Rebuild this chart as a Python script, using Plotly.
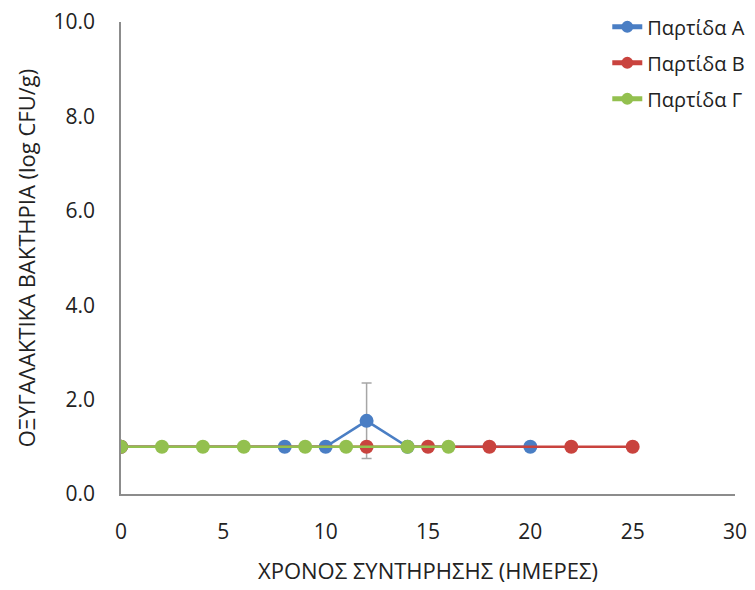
import plotly.graph_objects as go

# Data
days_a = [0, 8, 10, 12, 14, 20]
vals_a = [1.0, 1.0, 1.0, 1.55, 1.0, 1.0]
err_a = [0, 0, 0, 0.8, 0, 0]

days_b = [0, 12, 15, 18, 22, 25]
vals_b = [1.0, 1.0, 1.0, 1.0, 1.0, 1.0]

days_c = [0, 2, 4, 6, 9, 11, 14, 16]
vals_c = [1.0, 1.0, 1.0, 1.0, 1.0, 1.0, 1.0, 1.0]

names = ["Παρτίδα Α", "Παρτίδα Β", "Παρτίδα Γ"]
colors = ["#4A7EC4", "#C9433E", "#93C04F"]

x_ticks = [0, 5, 10, 15, 20, 25, 30]
y_ticks = [0, 2, 4, 6, 8, 10]

FONT = "Open Sans, Noto Sans, DejaVu Sans, sans-serif"

fig = go.Figure()
series = [(days_a, vals_a, err_a), (days_b, vals_b, None), (days_c, vals_c, None)]
for i, (xs, ys, err) in enumerate(series):
    kw = {}
    if err is not None:
        kw["error_y"] = dict(type="data", array=err, visible=True, color="#A6A6A6", thickness=1.5, width=5)
    fig.add_trace(go.Scatter(
        x=xs, y=ys, name=names[i], mode="lines+markers", legendgroup=f"g{i}",
        line=dict(color=colors[i], width=2.5),
        marker=dict(color=colors[i], size=14),
        **kw,
    ))

fig.update_layout(
    width=755, height=590,
    margin=dict(l=121, r=20, t=22, b=96, autoexpand=False),
    paper_bgcolor="white", plot_bgcolor="white",
    font=dict(family=FONT, color="#222222"),
    showlegend=True,
    legend=dict(x=0.792, y=1.031, xanchor="left", yanchor="top",
                font=dict(size=20, family=FONT, color="#222222"),
                bgcolor="rgba(0,0,0,0)", tracegroupgap=7,
                itemsizing="constant", itemwidth=30),
    xaxis=dict(range=[0, 30], tickvals=x_ticks, ticktext=[str(v) for v in x_ticks],
               showgrid=False, zeroline=False, showline=True, linecolor="#8C8C8C", linewidth=1.5,
               ticks="", tickfont=dict(size=21, family=FONT), ticklabelstandoff=18, automargin=False,
               title=dict(text="ΧΡΟΝΟΣ ΣΥΝΤΗΡΗΣΗΣ (ΗΜΕΡΕΣ)", font=dict(size=22, family=FONT), standoff=20)),
    yaxis=dict(range=[0, 10], tickvals=y_ticks, ticktext=[f"{v:.1f}" for v in y_ticks],
               showgrid=False, zeroline=False, showline=True, linecolor="#8C8C8C", linewidth=1.5,
               ticks="", tickfont=dict(size=21, family=FONT), ticklabelstandoff=20, automargin=False,
               title=dict(text="ΟΞΥΓΑΛΑΚΤΙΚΑ ΒΑΚΤΗΡΙΑ (log CFU/g)", font=dict(size=22, family=FONT), standoff=12)),
)

fig.write_html("out.html", config={"displayModeBar": False},
               post_script="document.body.style.margin='0';")
